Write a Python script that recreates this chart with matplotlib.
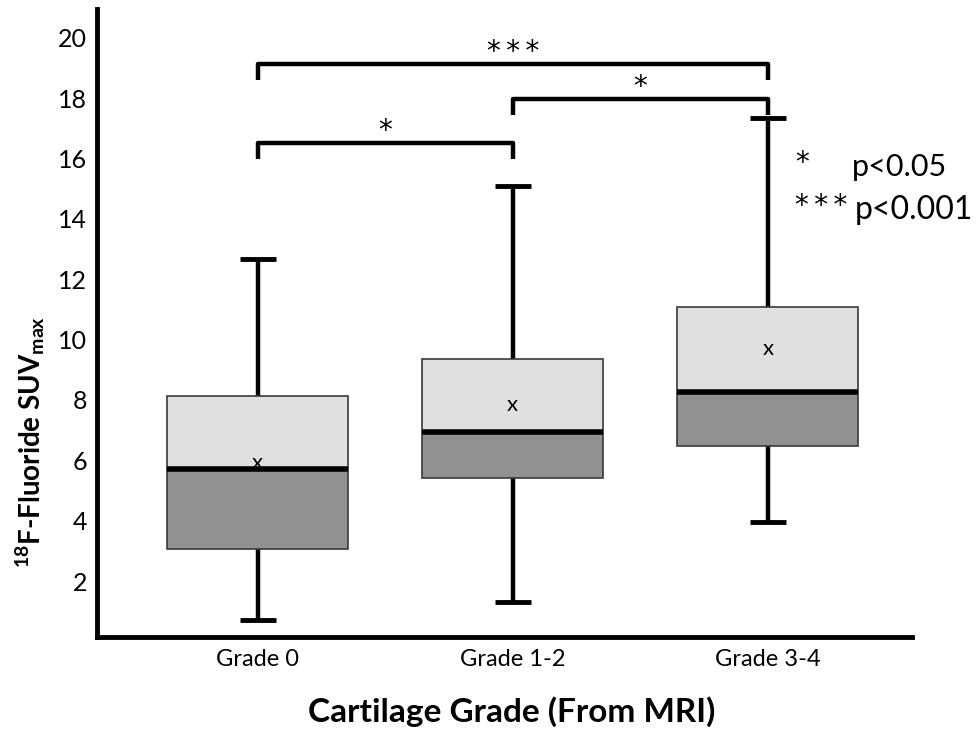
import matplotlib
matplotlib.use("Agg")
import matplotlib.pyplot as plt

categories = ['Grade 0', 'Grade 1-2', 'Grade 3-4']
whisker_low = [0.70, 1.30, 3.97]
q1 = [3.08, 5.40, 6.46]
median = [5.70, 6.95, 8.28]
q3 = [8.13, 9.37, 11.09]
whisker_high = [12.68, 15.10, 17.35]
means = [5.90, 7.82, 9.70]
yticks = [2, 4, 6, 8, 10, 12, 14, 16, 18, 20]
comparisons = [(0, 1, 16.52, '*'), (1, 2, 17.98, '*'), (0, 2, 19.14, '*\u2009*\u2009*')]

plt.rcParams['font.family'] = ['Lato', 'DejaVu Sans']
plt.rcParams['mathtext.fontset'] = 'custom'
plt.rcParams['mathtext.bf'] = 'Lato:bold'
plt.rcParams['mathtext.rm'] = 'Lato'

fig = plt.figure(figsize=(9.8, 7.35), dpi=100)
ax = fig.add_axes([97/980, 1-637/735, (912-97)/980, (637-9)/735])

xs = list(range(len(categories)))
bw = 0.71
dark = '#919191'
light = '#e0e0e0'
edge = '#3a3a3a'
star_font = ['DejaVu Sans']

# whiskers
for x, lo, hi, a, b in zip(xs, whisker_low, whisker_high, q1, q3):
    ax.plot([x, x], [lo, a], color='black', lw=3.2, solid_capstyle='butt', zorder=1)
    ax.plot([x, x], [b, hi], color='black', lw=3.2, solid_capstyle='butt', zorder=1)
    ax.plot([x-0.07, x+0.07], [lo, lo], color='black', lw=3.5, solid_capstyle='butt', zorder=1)
    ax.plot([x-0.07, x+0.07], [hi, hi], color='black', lw=3.5, solid_capstyle='butt', zorder=1)

# boxes
lower_h = [m - a for m, a in zip(median, q1)]
upper_h = [b - m for b, m in zip(q3, median)]
ax.bar(xs, lower_h, bottom=q1, width=bw, color=dark, edgecolor=edge, linewidth=1.2, zorder=2)
ax.bar(xs, upper_h, bottom=median, width=bw, color=light, edgecolor=edge, linewidth=1.2, zorder=2)
ax.hlines(median, [x - bw/2 for x in xs], [x + bw/2 for x in xs], color='black', lw=4, zorder=3)

# means
for x, m in zip(xs, means):
    ax.text(x, m, 'x', ha='center', va='center', fontsize=16, zorder=4)

# significance brackets
drop = 0.55
for i, j, h, s in comparisons:
    ax.plot([i, i, j, j], [h - drop, h, h, h - drop], color='black', lw=3.2,
            solid_joinstyle='round', solid_capstyle='butt', zorder=1)
    ax.text((i + j) / 2, h - 0.08, s, ha='center', va='bottom', fontsize=20,
            family=star_font)

ax.set_xlim(-0.63, 2.565)
ax.set_ylim(0.15, 20.95)
ax.set_yticks(yticks)
ax.set_yticklabels([str(t) for t in yticks], fontsize=18)
ax.set_xticks(xs)
ax.set_xticklabels(categories, fontsize=17)
ax.tick_params(axis='x', length=0, pad=9)
ax.tick_params(axis='y', length=0, pad=7)
for sp in ['top', 'right']:
    ax.spines[sp].set_visible(False)
for sp in ['left', 'bottom']:
    ax.spines[sp].set_linewidth(3.5)

fig.text(30/980, 1-442/735, r'$\mathbf{^{18}}$F-Fluoride SUV$\mathbf{_{max}}$',
         rotation=90, ha='center', va='center', fontsize=20, fontweight='bold')
fig.text(512/980, 1-712/735, 'Cartilage Grade (From MRI)', ha='center', va='center',
         fontsize=24, fontweight='bold')

fig.text(795/980, 1-163/735, '*', ha='left', va='center', fontsize=20, family=star_font)
fig.text(852/980, 1-167/735, 'p<0.05', ha='left', va='center', fontsize=22)
fig.text(795/980, 1-206/735, '*\u2009*\u2009*', ha='left', va='center', fontsize=20,
         family=star_font)
fig.text(855/980, 1-210/735, 'p<0.001', ha='left', va='center', fontsize=23)

fig.savefig('out.png', dpi=100)
